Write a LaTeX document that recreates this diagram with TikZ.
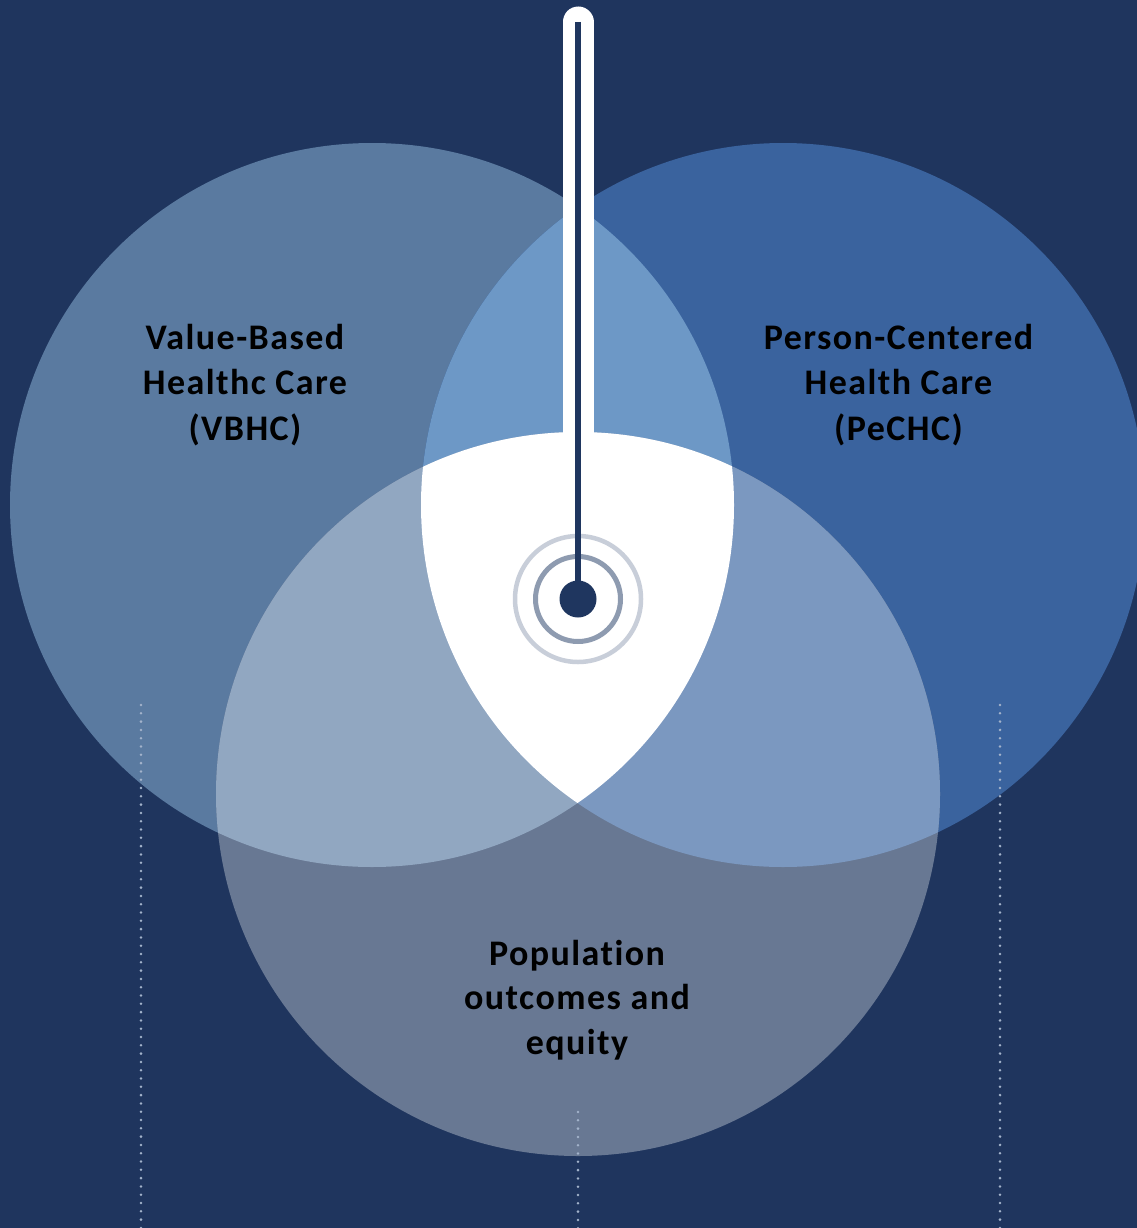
\documentclass[tikz,border=0pt]{standalone}
\usepackage{fontspec}
\setmainfont{Carlito}
\newfontfamily\lblfont[LetterSpace=4.0,Ligatures=NoCommon]{Carlito}
\definecolor{bg}{HTML}{1F355E}
\definecolor{colL}{HTML}{5A7AA0}
\definecolor{colR}{HTML}{3A639E}
\definecolor{colB}{HTML}{687893}
\definecolor{colLR}{HTML}{6D98C6}
\definecolor{colLB}{HTML}{91A7C1}
\definecolor{colRB}{HTML}{7B98C0}
\definecolor{navy}{HTML}{1F365F}
\definecolor{ringout}{HTML}{C8CED9}
\definecolor{ringin}{HTML}{8E9BB0}
\definecolor{dotcol}{HTML}{A3B3CB}
\begin{document}
\begin{tikzpicture}[x=1pt,y=-1pt,
  lbl/.style={font=\lblfont\fontsize{36}{45}\selectfont\bfseries, text=black, anchor=base, inner sep=0pt},
  dotline/.style={draw=dotcol, line width=2.8pt, line cap=round, dash pattern=on 0pt off 8.3pt}]
\useasboundingbox (0,0) rectangle (1137,1228);
\fill[bg] (0,0) rectangle (1137,1228);
\coordinate (cL) at (372,505);
\coordinate (cR) at (783,505);
\coordinate (cB) at (578,794);
\def\rad{362pt}
% base circles
\fill[colL] (cL) circle[radius=\rad];
\fill[colR] (cR) circle[radius=\rad];
\fill[colB] (cB) circle[radius=\rad];
% pairwise intersections
\begin{scope}
  \clip (cL) circle[radius=\rad];
  \fill[colLR] (cR) circle[radius=\rad];
  \fill[colLB] (cB) circle[radius=\rad];
\end{scope}
\begin{scope}
  \clip (cR) circle[radius=\rad];
  \fill[colRB] (cB) circle[radius=\rad];
  \begin{scope}
    \clip (cL) circle[radius=\rad];
    \fill[white] (cB) circle[radius=\rad];
  \end{scope}
\end{scope}
% dotted lines
\coordinate (d1a) at (141,705);
\coordinate (d1b) at (141,1232);
\coordinate (d2a) at (1000,705);
\coordinate (d2b) at (1000,1232);
\coordinate (d3a) at (578,1112);
\coordinate (d3b) at (578,1232);
\draw[dotline] (d1a) -- (d1b);
\draw[dotline] (d2a) -- (d2b);
\draw[dotline] (d3a) -- (d3b);
% stem and target
\coordinate (stemTop) at (578,22);
\coordinate (stemBot) at (578,445);
\coordinate (ctr) at (578,599);
\draw[white, line width=31pt, line cap=round] (stemTop) -- (stemBot);
\draw[ringout, line width=4.5pt] (ctr) circle[radius=63pt];
\draw[ringin, line width=5pt] (ctr) circle[radius=42.5pt];
\draw[navy, line width=6pt] (stemTop) -- (ctr);
\fill[navy] (ctr) circle[radius=18.5pt];
% labels
\node[lbl] (v1) at (245,349) {Value-Based};
\node[lbl] (v2) at (245,394.5) {Healthc Care};
\node[lbl] (v3) at (245,440) {(VBHC)};
\node[lbl] (p1) at (898.5,349) {Person-Centered};
\node[lbl] (p2) at (898.5,394.5) {Health Care};
\node[lbl] (p3) at (898.5,440) {(PeCHC)};
\node[lbl] (o1) at (577,965) {Population};
\node[lbl] (o2) at (577,1009.5) {outcomes and};
\node[lbl] (o3) at (577,1054) {equity};
\end{tikzpicture}
\end{document}
